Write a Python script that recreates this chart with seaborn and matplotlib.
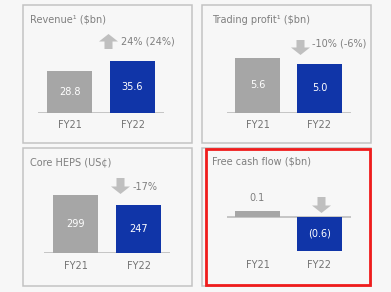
import matplotlib
matplotlib.use("Agg")
import matplotlib.pyplot as plt
from matplotlib.patches import Rectangle, Polygon
import seaborn as sns

# ---- data ----
categories = ["FY21", "FY22"]
revenue = [28.8, 35.6]
trading_profit = [5.6, 5.0]
core_heps = [299, 247]
free_cash_flow = [0.1, -0.6]
revenue_labels = ["28.8", "35.6"]
trading_labels = ["5.6", "5.0"]
heps_labels = ["299", "247"]
fcf_labels = ["0.1", "(0.6)"]
titles = ["Revenue¹ ($bn)", "Trading profit¹ ($bn)", "Core HEPS (US¢)", "Free cash flow ($bn)"]
changes = ["24% (24%)", "-10% (-6%)", "-17%", ""]
directions = ["up", "down", "down", "down"]

W, H = 391, 292
BG = "#f7f7f7"
GRAY = "#a6a6a6"
BLUE = "#1035a8"
TXT = "#7f7f7f"
ARROW = "#bfbfbf"

sns.set_theme(style="white")
plt.rcParams["font.family"] = ["DejaVu Sans"]

fig = plt.figure(figsize=(W / 100, H / 100), dpi=100, facecolor=BG)


def fx(x):
    return x / W


def fy(y):
    return 1 - y / H


def box(x0, y0, x1, y1, color, lw):
    fig.patches.append(Rectangle((fx(x0), fy(y1)), fx(x1) - fx(x0), fy(y0) - fy(y1),
                                 transform=fig.transFigure, fill=False,
                                 edgecolor=color, linewidth=lw, zorder=0))


def arrow(cx, ytop, ybot, direction):
    hw, sw, hl = 9.5, 4.0, 7.5
    if direction == "up":
        pts = [(cx, ytop), (cx + hw, ytop + hl), (cx + sw, ytop + hl), (cx + sw, ybot),
               (cx - sw, ybot), (cx - sw, ytop + hl), (cx - hw, ytop + hl)]
    else:
        pts = [(cx, ybot), (cx + hw, ybot - hl), (cx + sw, ybot - hl), (cx + sw, ytop),
               (cx - sw, ytop), (cx - sw, ybot - hl), (cx - hw, ybot - hl)]
    pts = [(fx(x), fy(y)) for x, y in pts]
    fig.patches.append(Polygon(pts, closed=True, transform=fig.transFigure,
                               facecolor=ARROW, edgecolor="none"))


# panel boxes
box(23, 5, 192, 143, "#c3c3c3", 1.1)
box(202, 5, 371, 143, "#c3c3c3", 1.1)
box(23, 148, 192, 286, "#c3c3c3", 1.1)
box(202, 148, 371, 286, "#c3c3c3", 1.1)
box(206, 148.5, 370, 285, "#f01c1c", 2.0)

# panel specs: values, labels, first bar center px, spacing px, baseline px, px per unit, top px, bottom px, tick pad pt
panels = [
    (revenue, revenue_labels, 69.5, 63, 113, 52 / 35.6, 30, 113, 5.0),
    (trading_profit, trading_labels, 257.5, 62, 113, 55 / 5.6, 30, 113, 5.0),
    (core_heps, heps_labels, 75.5, 63, 253, 58 / 299, 170, 253, 5.5),
    (free_cash_flow, fcf_labels, 257.5, 62, 217, 34 / 0.6, 180, 257, 2.5),
]
title_pos = [(30, 20), (212, 20), (30, 162), (212, 162)]
arrow_pos = [(108.5, 34, 49), (300.5, 40, 55), (120.5, 178, 194), (321.5, 197, 213)]
change_pos = [(121, 42), (312, 44), (133, 187), (0, 0)]

for i, (vals, labs, c1, d, y0, s, yt, yb, pad) in enumerate(panels):
    x0 = c1 - 0.5 * d
    x1 = c1 + 1.5 * d
    ax = fig.add_axes([fx(x0), fy(yb), fx(x1) - fx(x0), fy(yt) - fy(yb)])
    ax.set_facecolor("none")
    sns.barplot(x=categories, y=vals, hue=categories, palette=[GRAY, BLUE],
                width=45 / d, saturation=1, legend=False, ax=ax,
                linewidth=0, edgecolor="none")
    ax.set_xlim(-0.5, 1.5)
    ax.set_ylim(-(yb - y0) / s, (y0 - yt) / s)
    ax.axhline(0, color="#bdbdbd", lw=1.2, zorder=0.5)
    for sp in ax.spines.values():
        sp.set_visible(False)
    ax.set_yticks([])
    ax.set_ylabel("")
    ax.set_xlabel("")
    ax.tick_params(axis="x", length=0, pad=pad, labelsize=7, labelcolor="#737373")
    for j, (v, lab) in enumerate(zip(vals, labs)):
        if i == 3 and v > 0:
            ax.text(j, v + 8 / s, lab, ha="center", va="bottom", fontsize=7, color=TXT)
        else:
            ax.text(j, v / 2, lab, ha="center", va="center", fontsize=7, color="white")

    tx, ty = title_pos[i]
    fig.text(fx(tx), fy(ty), titles[i], ha="left", va="center", fontsize=7, color=TXT)
    ac, at, ab = arrow_pos[i]
    arrow(ac, at, ab, directions[i])
    if changes[i]:
        cx, cy = change_pos[i]
        fig.text(fx(cx), fy(cy), changes[i], ha="left", va="center", fontsize=7, color=TXT)

fig.savefig("out.png", dpi=100, facecolor=BG)
